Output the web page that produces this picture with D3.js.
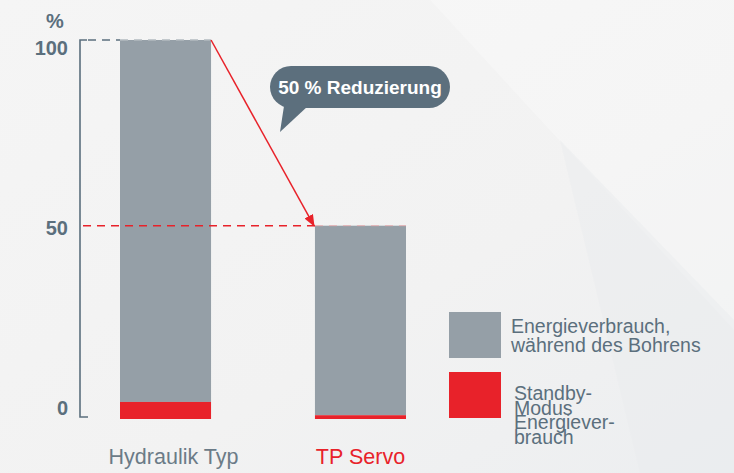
<!DOCTYPE html>
<html><head><meta charset="utf-8">
<script src="https://cdn.jsdelivr.net/npm/d3@7"></script>
<style>html,body{margin:0;padding:0;background:#f3f3f3;}svg{display:block;}</style>
</head><body>
<svg id="chart" width="734" height="473"></svg>
<script>
const categories = ["Hydraulik Typ", "TP Servo"];
const standby = [4.5, 1];
const drilling = [95.5, 50];
const yTicks = [0, 50, 100];
const legendLabels = [["Energieverbrauch,", "während des Bohrens"], ["Standby-", "Modus", "Energiever-", "brauch"]];
const calloutText = "50 % Reduzierung";

const svg = d3.select("#chart");
const W = 734, H = 473;
const font = "Liberation Sans, Arial, Helvetica, sans-serif";
const slate = "#5b6f7d", grey = "#959fa7", red = "#e8222a";

// background
const defs = svg.append("defs");
const g1 = defs.append("linearGradient").attr("id","bg").attr("x1","0").attr("y1","0").attr("x2","1").attr("y2","1");
g1.append("stop").attr("offset","0").attr("stop-color","#f5f5f5");
g1.append("stop").attr("offset","0.6").attr("stop-color","#f2f2f2");
g1.append("stop").attr("offset","1").attr("stop-color","#eceef0");
svg.append("rect").attr("width",W).attr("height",H).attr("fill","url(#bg)");
svg.append("path").attr("d","M430,0 L734,0 L734,330 Z").attr("fill","#ffffff").attr("opacity",0.25);
svg.append("path").attr("d","M560,140 L734,320 L734,473 L640,473 Z").attr("fill","#e8ebee").attr("opacity",0.45);

const x = d3.scaleBand().domain(categories).range([120, 406]).paddingInner(0.533).paddingOuter(0);
const y = d3.scaleLinear().domain([0, 100]).range([419, 40]);
const yLab = d3.scaleLinear().domain([0, 100]).range([408, 48]);

const bw = x.bandwidth();
const barG = svg.append("g");
categories.forEach((c, i) => {
  barG.append("rect").attr("x", x(c)).attr("width", bw)
    .attr("y", y(standby[i] + drilling[i])).attr("height", y(standby[i]) - y(standby[i] + drilling[i]))
    .attr("fill", grey);
  barG.append("rect").attr("x", x(c)).attr("width", bw)
    .attr("y", y(standby[i])).attr("height", y(0) - y(standby[i]))
    .attr("fill", red);
});

// axis bracket
const ax = 80;
svg.append("path")
  .attr("d", `M${ax+7},${y(100)} L${ax},${y(100)} L${ax},${y(0)-2} L${ax+8},${y(0)-2}`)
  .attr("fill","none").attr("stroke", slate).attr("stroke-width", 1.6);

// tick labels
svg.append("g").selectAll("text").data(yTicks).join("text")
  .attr("x", 68).attr("y", d => yLab(d)).attr("dy", "0.35em")
  .attr("text-anchor","end").attr("font-family", font).attr("font-weight","bold")
  .attr("font-size", 20).attr("fill", slate).text(d => d);
svg.append("text").attr("x", 55).attr("y", 28).attr("text-anchor","middle")
  .attr("font-family", font).attr("font-weight","bold").attr("font-size", 20).attr("fill", slate).text("%");

// dashed top line
const tot0 = standby[0] + drilling[0], tot1 = standby[1] + drilling[1];
svg.append("line").attr("x1", ax+8).attr("x2", x(categories[0])).attr("y1", y(tot0)).attr("y2", y(tot0))
  .attr("stroke", slate).attr("stroke-width", 1.4).attr("stroke-dasharray","8,6");
svg.append("line").attr("x1", x(categories[0])).attr("x2", x(categories[0])+bw).attr("y1", y(tot0)).attr("y2", y(tot0))
  .attr("stroke", "#b3bac0").attr("stroke-width", 1.4).attr("stroke-dasharray","8,6");
// dashed 50 line
svg.append("line").attr("x1", ax+3).attr("x2", x(categories[1])).attr("y1", y(tot1)).attr("y2", y(tot1))
  .attr("stroke", red).attr("stroke-width", 1.4).attr("stroke-dasharray","8,6");
svg.append("line").attr("x1", x(categories[1])).attr("x2", x(categories[1])+bw).attr("y1", y(tot1)).attr("y2", y(tot1))
  .attr("stroke", "#e9a0a4").attr("stroke-width", 1.2).attr("stroke-dasharray","8,6").attr("opacity",0.6);

// arrow
defs.append("marker").attr("id","arr").attr("viewBox","0 0 10 10").attr("refX",9).attr("refY",5)
  .attr("markerWidth",8).attr("markerHeight",8).attr("orient","auto")
  .append("path").attr("d","M0,1 L10,5 L0,9 Z").attr("fill", red);
svg.append("line").attr("x1", x(categories[0])+bw).attr("y1", y(tot0))
  .attr("x2", x(categories[1])-1).attr("y2", y(tot1))
  .attr("stroke", red).attr("stroke-width", 1.5).attr("marker-end","url(#arr)");

// callout
const cg = svg.append("g");
cg.append("rect").attr("x", 270).attr("y", 66).attr("width", 180).attr("height", 42).attr("rx", 21)
  .attr("fill", "#5c6f7d");
cg.append("path").attr("d","M284,106 L308,106 L280,132 Z").attr("fill","#5c6f7d");
cg.append("text").attr("x", 360).attr("y", 94).attr("text-anchor","middle")
  .attr("font-family", font).attr("font-weight","bold").attr("font-size", 19).attr("fill","#ffffff").text(calloutText);

// category labels
svg.append("g").selectAll("text").data(categories).join("text")
  .attr("x", (d,i) => x(d) + bw/2 + (i===0 ? 8 : 0)).attr("y", 464)
  .attr("text-anchor","middle").attr("font-family", font).attr("font-size", 21.5)
  .attr("fill", (d,i) => i===0 ? "#6b7b87" : red).text(d => d);

// legend
const lg = svg.append("g");
const legColors = [grey, red];
const legY = [312, 372];
legendLabels.forEach((lines, i) => {
  lg.append("rect").attr("x", 449).attr("y", legY[i]).attr("width", 52).attr("height", 46).attr("fill", legColors[i]);
  const t = lg.append("text").attr("font-family", font).attr("font-size", 19.5).attr("fill", slate);
  lines.forEach((ln, j) => {
    if (i === 0) t.append("tspan").attr("x", 511).attr("y", 333 + j*19).text(ln);
    else t.append("tspan").attr("x", 514).attr("y", 400 + j*14.5).text(ln);
  });
});
</script>
</body></html>
